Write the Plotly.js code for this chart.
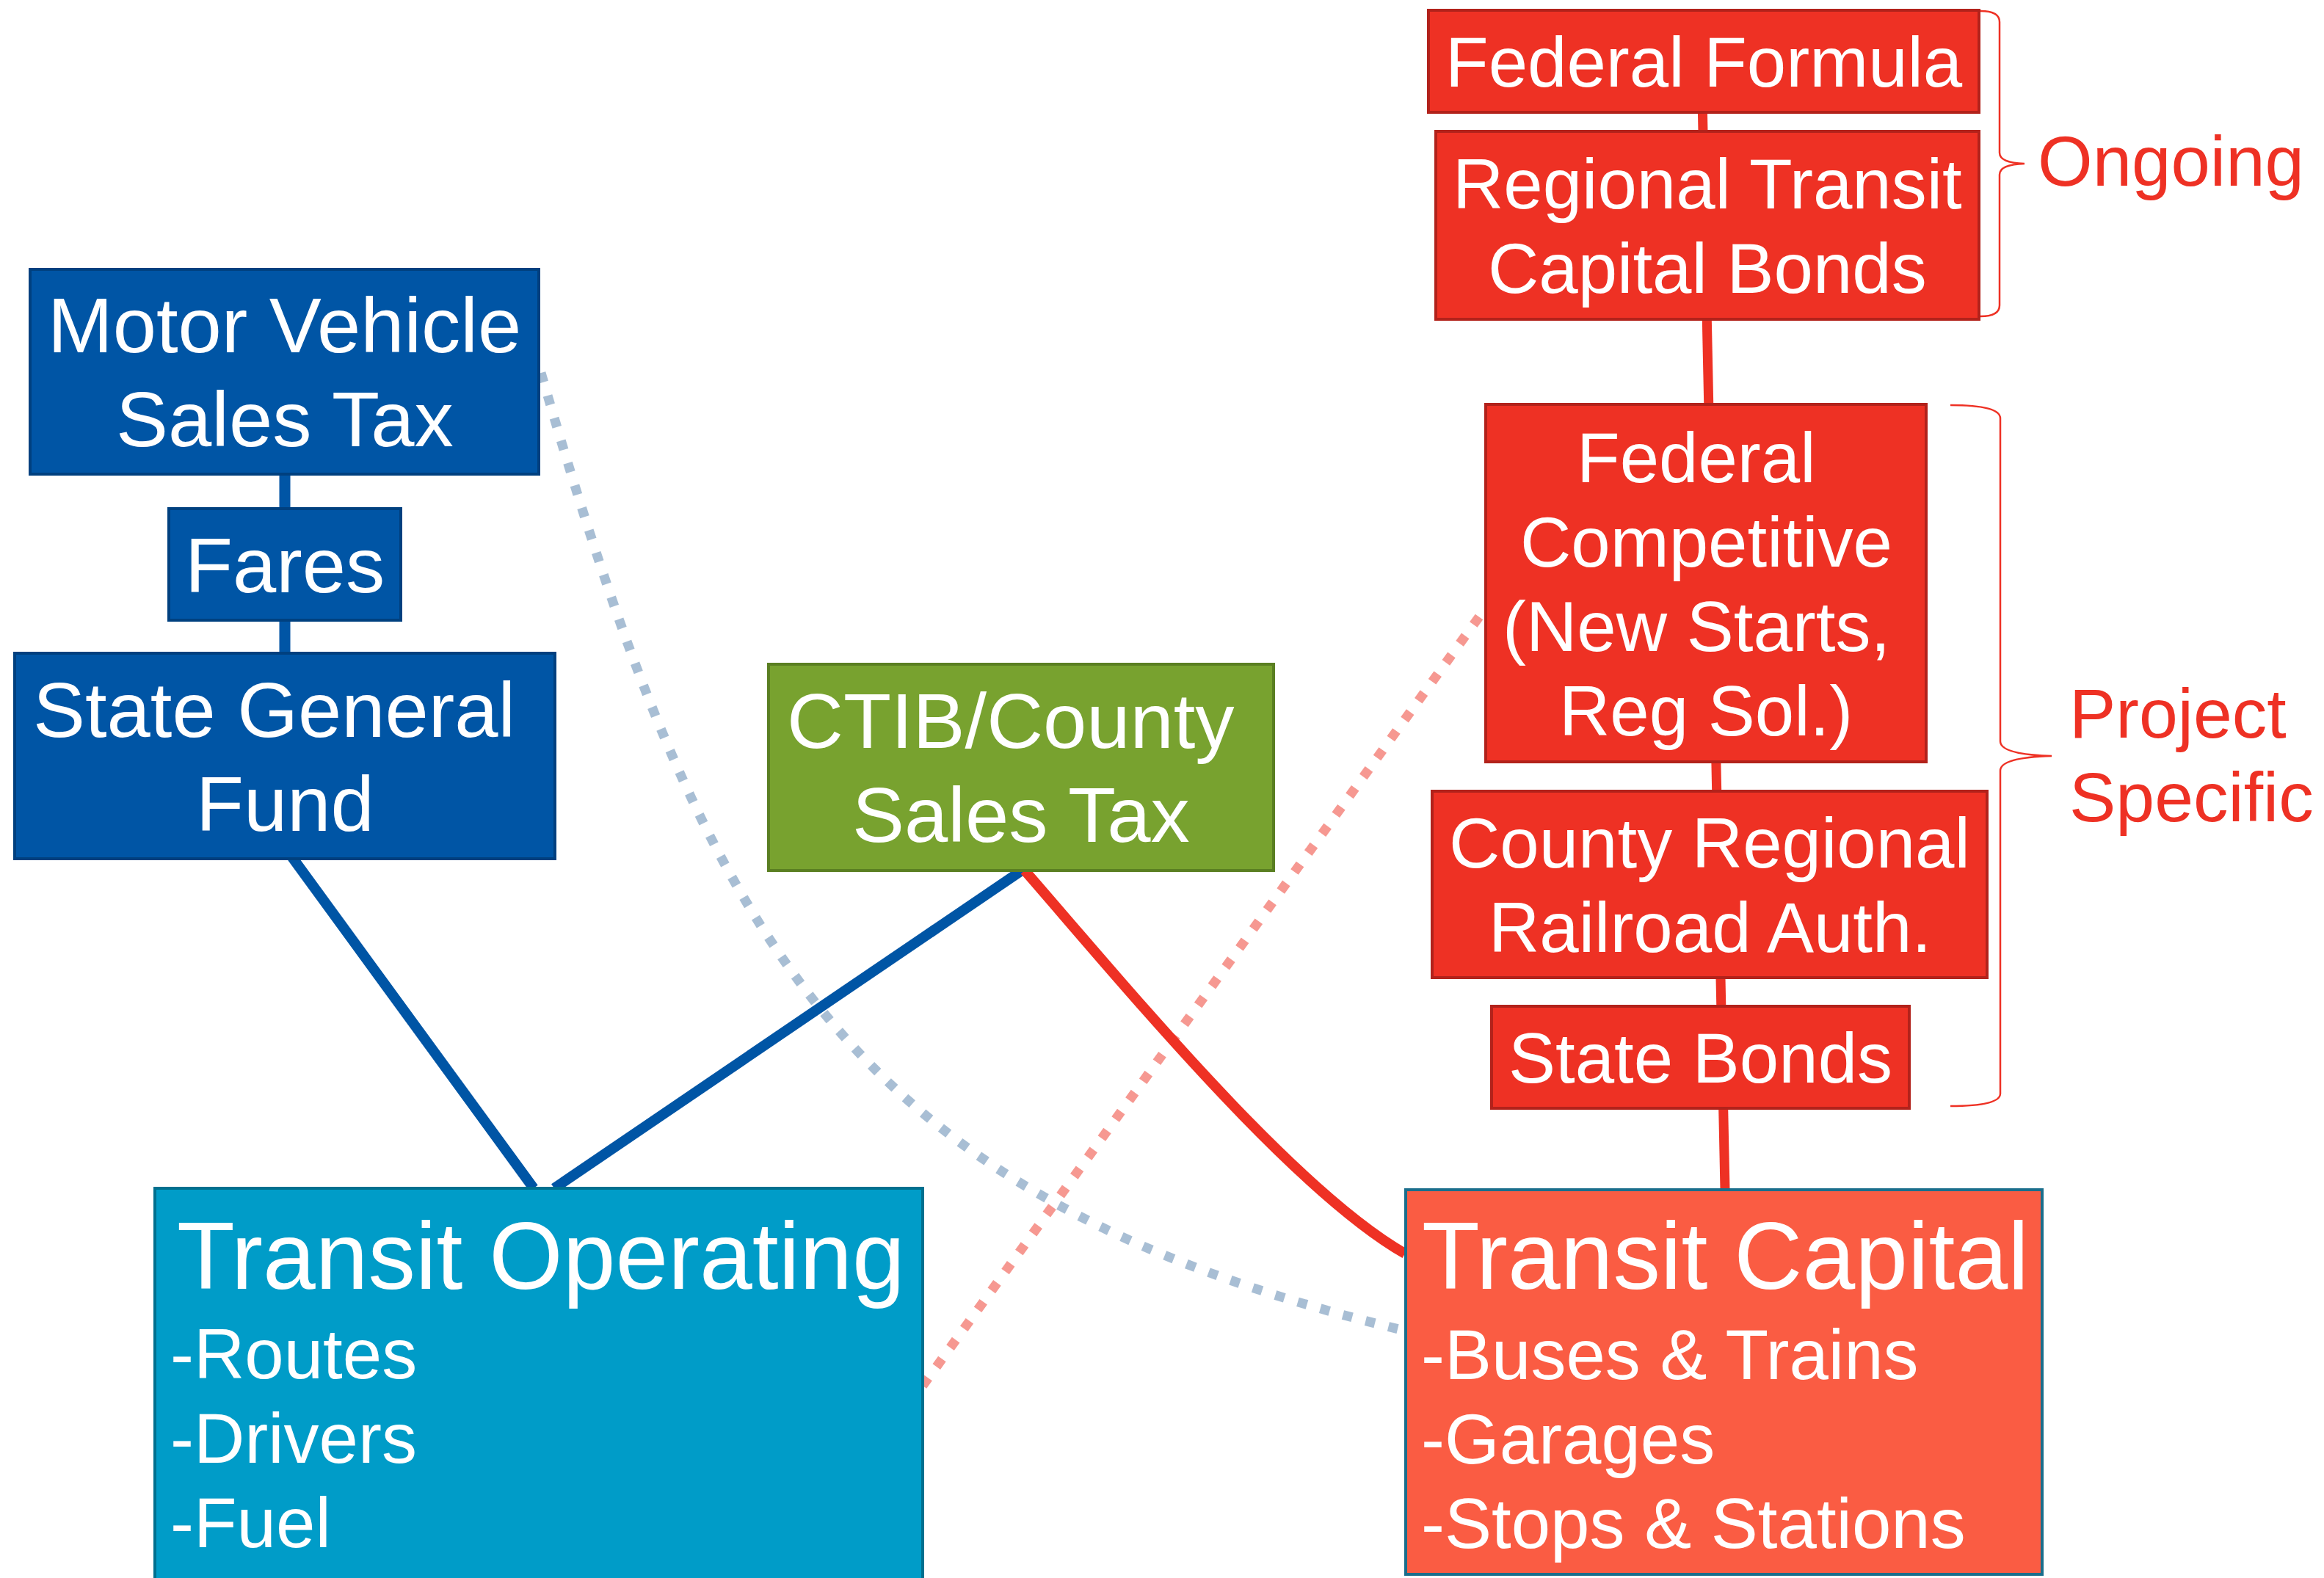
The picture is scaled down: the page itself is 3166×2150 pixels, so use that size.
<!DOCTYPE html>
<html><head><meta charset="utf-8">
<script src="https://cdn.plot.ly/plotly-3.0.1.min.js"></script>
<style>html,body{margin:0;padding:0;background:#fff;overflow:hidden;} #chart{width:3166px;height:2150px;}</style>
</head><body><div id="chart"></div>
<script>
// ---------- content (text of the diagram) ----------
const operatingSourceLines = [["Motor Vehicle", "Sales Tax"], ["Fares"], ["State General\u00A0", "Fund"]];
const sharedSourceLines = [["CTIB/County\u00A0", "Sales Tax"]];
const ongoingCapitalLines = [["Federal Formula"], ["Regional Transit", "Capital Bonds"]];
const projectCapitalLines = [["Federal\u00A0", "Competitive", "(New Starts,\u00A0", "Reg Sol.)"], ["County Regional", "Railroad Auth."], ["State Bonds"]];
const useTitles = ["Transit Operating", "Transit Capital"];
const operatingItems = ["-Routes", "-Drivers", "-Fuel"];
const capitalItems = ["-Buses & Trains", "-Garages", "-Stops & Stations"];
const groupLabels = [["Ongoing"], ["Project", "Specific"]];

// ---------- geometry (layout only) ----------
const geomOperatingSources = [[41, 734, 367, 646], [230, 546, 693, 845], [20, 756, 890, 1170]];
const geomShared = [[1047, 1735, 905, 1186]];
const geomOngoing = [[1946, 2696, 14, 153], [1956, 2696, 179, 435]];
const geomProject = [[2024, 2624, 551, 1038], [1951, 2707, 1078, 1332], [2032, 2601, 1371, 1510]];
const geomUses = [[211, 1257, 1619, 2175], [1915, 2782, 1621, 2145]];

const FONT = '"Liberation Sans", Arial, "DejaVu Sans", sans-serif';
const esc = s => s.replace(/&/g, '&amp;');

const shapes = [];
const annotations = [];

function path(d, color, width, dash) {
  const ln = {color: color, width: width};
  if (dash) ln.dash = dash;
  shapes.push({type: 'path', xref: 'x', yref: 'y', path: d, line: ln, layer: 'above'});
}
function box(g, fill, border) {
  shapes.push({type: 'rect', xref: 'x', yref: 'y', x0: g[0], x1: g[1], y0: g[2], y1: g[3],
    fillcolor: fill, line: {color: border, width: 4}, layer: 'above'});
}
function centeredText(g, lines, size, spacing, color) {
  const cx = (g[0] + g[1]) / 2, cy = (g[2] + g[3]) / 2 + 1;
  const n = lines.length;
  lines.forEach((t, i) => {
    annotations.push({xref: 'x', yref: 'y', x: cx, y: cy + (i - (n - 1) / 2) * spacing,
      text: esc(t), showarrow: false, xanchor: 'center', yanchor: 'middle',
      font: {family: FONT, size: size, color: color || '#ffffff'}});
  });
}
function leftText(x, baseline, t, size, color) {
  annotations.push({xref: 'x', yref: 'y', x: x, y: baseline - 0.3465 * size,
    text: esc(t), showarrow: false, xanchor: 'left', yanchor: 'middle',
    font: {family: FONT, size: size, color: color || '#ffffff'}});
}

// ---------- connectors (drawn first, under boxes) ----------
const blueDot = 'rgba(81,125,169,0.5)', redDot = 'rgba(238,49,36,0.5)';
path('M 737,508 C 961,1279 1150,1630 1914,1813', blueDot, 13, '13px,19px');
path('M 1257,1888 L 2024,828', redDot, 13, '13px,19px');
path('M 388,600 L 388,900', '#0055A5', 15);
path('M 398,1168 L 727,1619', '#0055A5', 14);
path('M 1392,1186 L 755,1619', '#0055A5', 14);
path('M 1396,1186 C 1530,1340 1760,1620 1914,1708', '#EE3124', 14);
path('M 2318,84 L 2350,1621', '#EE3124', 13);

// brackets
path('M 2698,15 Q 2724,15 2724,30 L 2724,208 Q 2724,222 2758,223 Q 2724,224 2724,238 L 2724,416 Q 2724,431 2698,431', '#EE3124', 2.5);
path('M 2657,552 Q 2725,552 2725,570 L 2725,1010 Q 2725,1028 2795,1030 Q 2725,1032 2725,1050 L 2725,1490 Q 2725,1507 2657,1507', '#EE3124', 2.5);

// ---------- boxes & text ----------
geomOperatingSources.forEach((g, i) => { box(g, '#0055A5', '#00407F'); centeredText(g, operatingSourceLines[i], 106.5, 128); });
geomShared.forEach((g, i) => { box(g, '#78A22F', '#5A7F22'); centeredText(g, sharedSourceLines[i], 106.5, 128); });
geomOngoing.forEach((g, i) => { box(g, '#EE3124', '#B2221B'); centeredText(g, ongoingCapitalLines[i], 96, 115); });
geomProject.forEach((g, i) => { box(g, '#EE3124', '#B2221B'); centeredText(g, projectCapitalLines[i], 96, 115); });

box(geomUses[0], '#009CC8', '#00708F');
box(geomUses[1], '#FA5C43', '#1A6E8C');
leftText(239, 1756, useTitles[0], 129);
leftText(1935, 1756, useTitles[1], 129);
const itemBaselines = [1878, 1993, 2108];
operatingItems.forEach((t, i) => leftText(230, itemBaselines[i], t, 96));
capitalItems.forEach((t, i) => leftText(1934, itemBaselines[i] + 1, t, 96));

// group labels
leftText(2774, 253, groupLabels[0][0], 96, '#EE3124');
leftText(2817, 1005, groupLabels[1][0], 95, '#EE3124');
leftText(2817, 1119, groupLabels[1][1], 95, '#EE3124');

const layout = {
  width: 3166, height: 2150,
  margin: {l: 0, r: 0, t: 0, b: 0, pad: 0},
  paper_bgcolor: '#ffffff', plot_bgcolor: '#ffffff',
  showlegend: false,
  xaxis: {range: [0, 3166], autorange: false, visible: false, fixedrange: true},
  yaxis: {range: [2150, 0], autorange: false, visible: false, fixedrange: true},
  shapes: shapes,
  annotations: annotations
};
Plotly.newPlot('chart', [{x: [], y: [], type: 'scatter', mode: 'markers', hoverinfo: 'skip'}], layout,
  {staticPlot: true, displayModeBar: false});
</script>
</body></html>
